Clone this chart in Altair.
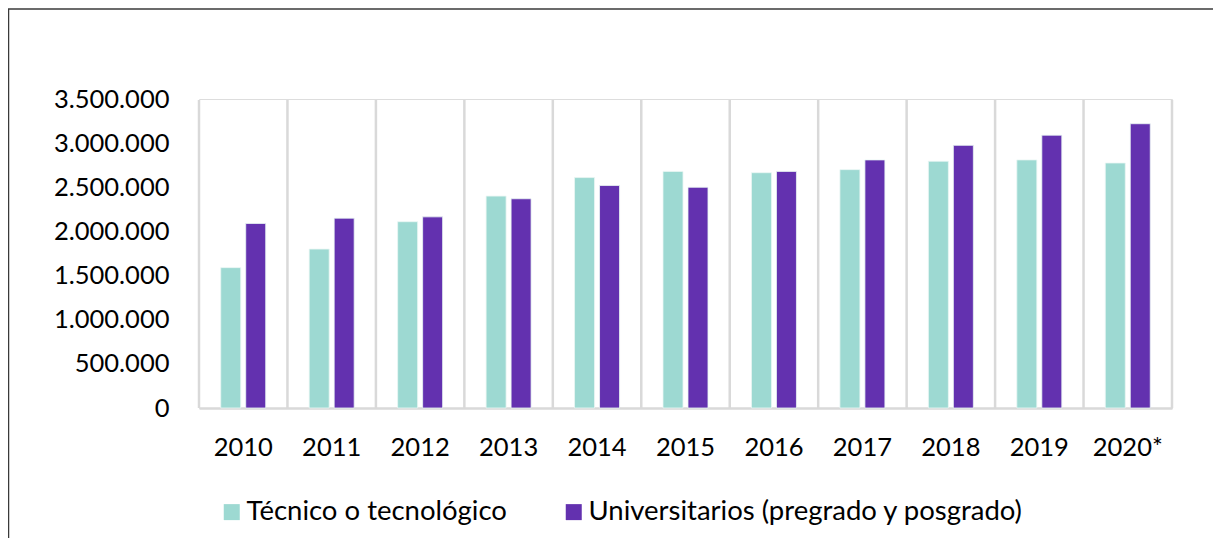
import altair as alt
import pandas as pd

years = ["2010", "2011", "2012", "2013", "2014", "2015", "2016", "2017", "2018", "2019", "2020*"]
tecnico = [1590000, 1800000, 2110000, 2400000, 2610000, 2680000, 2665000, 2700000, 2795000, 2810000, 2775000]
universitarios = [2090000, 2150000, 2165000, 2370000, 2520000, 2500000, 2680000, 2810000, 2975000, 3090000, 3220000]
series = ["Técnico o tecnológico", "Universitarios (pregrado y posgrado)"]
colors = ["#9DD9D2", "#6331AF"]
y_ticks = [0, 500000, 1000000, 1500000, 2000000, 2500000, 3000000, 3500000]

rows = []
for i, yr in enumerate(years):
    rows.append({"year": yr, "serie": series[0], "value": tecnico[i]})
    rows.append({"year": yr, "serie": series[1], "value": universitarios[i]})
df = pd.DataFrame(rows)
year_df = pd.DataFrame({"year": years})

W, H = 973, 309
FONT = "Lato"

xscale = alt.Scale(domain=years, paddingInner=0, paddingOuter=0)

bars = alt.Chart(df).mark_bar(stroke="#EAF6F4", strokeWidth=0.8).encode(
    x=alt.X("year:N", sort=years, title=None, scale=xscale,
            axis=alt.Axis(grid=False, ticks=False, domainColor="#D9D9D9", domainWidth=2.5,
                          labelAngle=0, labelFontSize=25.5, labelPadding=27, labelColor="black",
                          labelFont=FONT)),
    xOffset=alt.XOffset("serie:N", sort=series,
                        scale=alt.Scale(domain=series, paddingInner=0.2, paddingOuter=0.87)),
    y=alt.Y("value:Q", title=None,
            scale=alt.Scale(domain=[0, 3500000], nice=False),
            axis=alt.Axis(values=y_ticks, grid=False, ticks=False, domain=False,
                          labelPadding=30, labelFontSize=25.5, labelColor="black", labelFont=FONT,
                          labelExpr="replace(replace(format(datum.value, ',d'), ',', '.'), ',', '.')")),
    color=alt.Color("serie:N", sort=series,
                    scale=alt.Scale(domain=series, range=colors),
                    legend=alt.Legend(title=None, orient="none", legendX=19, legendY=399,
                                      direction="horizontal", symbolType="square",
                                      symbolSize=256, symbolStrokeWidth=0, symbolOpacity=1,
                                      labelFontSize=27.5, labelFont=FONT, labelColor="black",
                                      columnPadding=53, labelOffset=1, labelLimit=600)),
)

grid = alt.Chart(year_df).mark_rule(color="#D9D9D9", strokeWidth=2.5).encode(
    x=alt.X("year:N", sort=years, bandPosition=0, scale=xscale, axis=None),
    y=alt.value(1), y2=alt.value(H),
)

right_edge = alt.Chart(year_df.head(1)).mark_rule(color="#D9D9D9", strokeWidth=2.5).encode(
    x=alt.value(W), y=alt.value(1), y2=alt.value(H),
)

frame_top = alt.Chart(year_df.head(1)).mark_rule(color="#3A3A3A", strokeWidth=1.5).encode(
    x=alt.value(-191), x2=alt.value(W + 41), y=alt.value(-90),
)
frame_left = alt.Chart(year_df.head(1)).mark_rule(color="#3A3A3A", strokeWidth=1.5).encode(
    x=alt.value(-190.5), y=alt.value(-90), y2=alt.value(H + 130),
)

chart = alt.layer(grid, right_edge, bars, frame_top, frame_left).resolve_axis(
    x="independent"
).properties(
    width=W, height=H,
    autosize=alt.AutoSizeParams(type="none"),
    padding={"left": 191, "top": 91, "right": 41, "bottom": 130},
).configure_view(stroke=None).configure(background="white")

chart.save("out.html", embed_options={"renderer": "svg", "actions": False})
